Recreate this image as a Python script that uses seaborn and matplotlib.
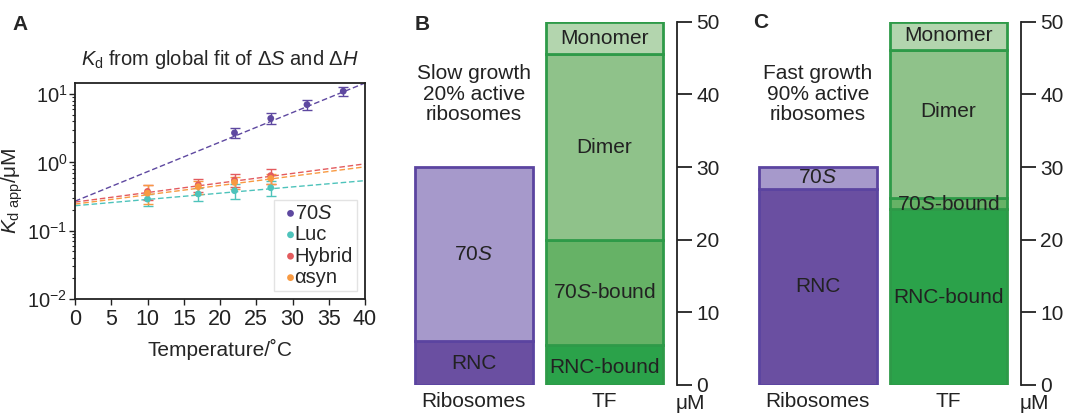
import matplotlib
matplotlib.use("Agg")
import matplotlib.pyplot as plt
import seaborn as sns
import numpy as np
import pandas as pd

sns.set_theme(style="ticks")
plt.rcParams['font.family'] = ['Liberation Sans', 'DejaVu Sans']
plt.rcParams['mathtext.fontset'] = 'custom'
plt.rcParams['mathtext.rm'] = 'Liberation Sans'
plt.rcParams['mathtext.it'] = 'Liberation Sans:italic'
plt.rcParams['mathtext.bf'] = 'Liberation Sans:bold'

# ---- panel A data ----
temps_70s = [22, 27, 32, 37]
kd_70s = [2.7, 4.4, 7.0, 11.0]
err_70s = [0.45, 0.8, 1.1, 1.6]

temps = [10, 17, 22, 27]
kd_luc = [0.29, 0.345, 0.385, 0.425]
err_luc = [0.06, 0.07, 0.09, 0.1]
kd_hybrid = [0.375, 0.47, 0.55, 0.64]
err_hybrid = [0.09, 0.1, 0.12, 0.15]
kd_asyn = [0.355, 0.44, 0.51, 0.58]
err_asyn = [0.11, 0.1, 0.1, 0.1]

fit_T = [0, 40]
fit_70s = [0.27, 14.5]
fit_luc = [0.232, 0.54]
fit_hybrid = [0.262, 0.95]
fit_asyn = [0.245, 0.86]

# ---- panel B/C data (uM) ----
ribo_labels = ['RNC', '70$\\it{S}$']
tf_labels = ['RNC-bound', '70$\\it{S}$-bound', 'Dimer', 'Monomer']
slow_ribo = [6, 24]
slow_tf = [5.5, 14.5, 25.5, 4.5]
fast_ribo = [27, 3]
fast_tf = [24.2, 1.6, 20.3, 3.9]

c70 = '#5e48a0'
cluc = '#4ec3bb'
chyb = '#e35b5e'
casyn = '#f89a42'
ribo_colors = ['#6a4fa1', '#a699cb']
tf_colors = ['#2ba24a', '#66b266', '#8fc28a', '#b3d5ae']
ribo_edge = '#5b44a0'
tf_edge = '#2e9a48'
txt = '#222222'

W, H = 1066, 413
fig = plt.figure(figsize=(W / 100, H / 100), dpi=100)

def px_axes(x0, y0, x1, y1):
    return fig.add_axes([x0 / W, 1 - y1 / H, (x1 - x0) / W, (y1 - y0) / H])

# ---------------- panel A ----------------
ax = px_axes(75, 83, 365, 299)
series = [('70$\\it{S}$', temps_70s, kd_70s, err_70s, fit_70s, c70),
          ('Luc', temps, kd_luc, err_luc, fit_luc, cluc),
          ('Hybrid', temps, kd_hybrid, err_hybrid, fit_hybrid, chyb),
          ('αsyn', temps, kd_asyn, err_asyn, fit_asyn, casyn)]
for name, t, k, e, f, c in series:
    sns.lineplot(x=fit_T, y=f, ax=ax, color=c, lw=1.0, linestyle=(0, (4, 2)))
    ax.errorbar(t, k, yerr=e, fmt='none', ecolor=c, elinewidth=1.0, capsize=3.5, capthick=1.0)
    sns.scatterplot(x=t, y=k, ax=ax, color=c, s=24, edgecolor='none', label=name, zorder=5)
ax.set_yscale('log')
ax.set_xlim(0, 40)
ax.set_ylim(0.01, 14.5)
ax.set_xticks(range(0, 41, 5))
ax.tick_params(axis='x', labelsize=15.5, direction='out', length=4, width=1, colors=txt)
ax.tick_params(axis='y', labelsize=14.5, direction='out', length=4, width=1, colors=txt, pad=1.5)
ax.tick_params(axis='y', which='minor', length=2, width=0.8)
for s in ax.spines.values():
    s.set_linewidth(1.3)
    s.set_color(txt)
ax.set_xlabel('Temperature/˚C', fontsize=15, labelpad=6)
ax.set_ylabel('$K_{\\mathrm{d\\ app}}$/μM', fontsize=15)
ax.yaxis.set_label_coords((25 - 75) / 290, 0.5)
ax.set_title('$K_\\mathrm{d}$ from global fit of Δ$S$ and Δ$H$', fontsize=14.5, pad=13)
leg = ax.legend(loc='lower right', fontsize=14.5, handletextpad=-0.4, handlelength=1.2,
                borderpad=0.2, labelspacing=0.12, borderaxespad=0.4, frameon=True,
                markerscale=1.0, fancybox=False)
leg.get_frame().set_edgecolor('#dddddd')
fig.text(12 / W, 1 - 25 / H, 'A', fontsize=15, fontweight='bold', va='center')

# ---------------- panels B & C ----------------
def stack_panel(x_left, x_spine, ribo_vals, tf_vals, note, letter, letter_xy):
    ax = px_axes(x_left, 21.7, x_spine, 385)
    ax.set_xlim(-0.565 if letter == 'B' else -0.558, 1.555)
    ax.set_ylim(0, 50)
    bot = 0
    for v, c, lab in zip(ribo_vals, ribo_colors, ribo_labels):
        ax.bar(0, v, bottom=bot, width=0.9, color=c, edgecolor=ribo_edge, linewidth=2, zorder=2)
        ty = bot + v / 2
        if v < 4:
            ty = bot + v / 2 + 0.1
        ax.text(0, ty, lab, ha='center', va='center', fontsize=15, color=txt)
        bot += v
    bot = 0
    for v, c, lab in zip(tf_vals, tf_colors, tf_labels):
        ax.bar(1, v, bottom=bot, width=0.9, color=c, edgecolor=tf_edge, linewidth=2, zorder=2)
        ty = bot + v / 2
        if lab == 'RNC-bound' and v < 10:
            ty = bot + v / 2 - 0.3
        if lab == 'Dimer' and v < 22:
            ty = bot + v / 2 + 1.7
        if v < 2:
            ty = bot + v / 2 - 0.2
        ax.text(1, ty, lab, ha='center', va='center', fontsize=15, color=txt)
        bot += v
    ax.text(0, 40, note, ha='center', va='center', fontsize=15, linespacing=1.1, color=txt)
    for k in ['left', 'top', 'bottom']:
        ax.spines[k].set_visible(False)
    ax.spines['right'].set_linewidth(1.3)
    ax.spines['right'].set_color(txt)
    ax.yaxis.tick_right()
    ax.set_yticks(range(0, 51, 10))
    ax.tick_params(axis='y', direction='out', length=11, width=1.3, labelsize=15, pad=3,
                   colors=txt)
    ax.set_xticks([0, 1])
    ax.set_xticklabels(['Ribosomes', 'TF'])
    ax.tick_params(axis='x', length=0, labelsize=15, pad=5, colors=txt)
    ax.text(1.555 + 0.1, -3.3, 'μM', ha='center', va='baseline', fontsize=15, color=txt)
    fig.text(letter_xy[0] / W, 1 - letter_xy[1] / H, letter, fontsize=15, fontweight='bold', va='center')

stack_panel(400, 677, slow_ribo, slow_tf, 'Slow growth\n20% active\nribosomes', 'B', (415, 25))
stack_panel(745, 1021, fast_ribo, fast_tf, 'Fast growth\n90% active\nribosomes', 'C', (753, 23))

fig.savefig('out.png', dpi=100)
